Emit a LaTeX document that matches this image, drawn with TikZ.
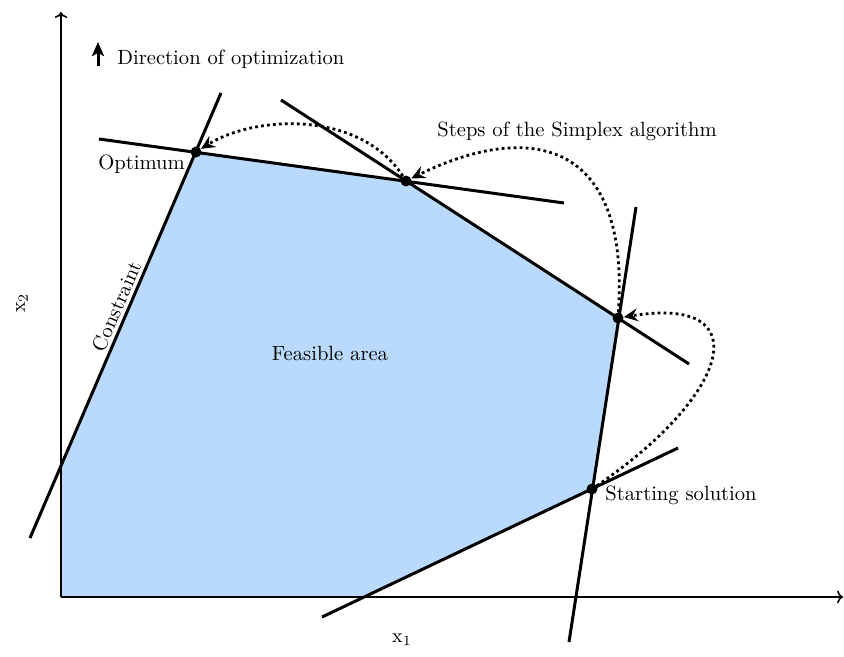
\documentclass[tikz,border=0pt]{standalone}
\usetikzlibrary{arrows.meta}
\definecolor{feasible}{RGB}{185,218,252}

\begin{document}
\begin{tikzpicture}[
    x=0.5pt, y=-0.5pt,
    axis/.style={-{To[length=3pt]}, line width=0.8pt},
    constraint/.style={line width=1.5pt},
    simplexstep/.style={-{Stealth[length=7pt, width=6.5pt, inset=2.5pt]}, line width=1.4pt, dash pattern=on 1.4pt off 1.6pt},
    point/.style={circle, fill=black, inner sep=0pt, minimum size=5.5pt},
    txt/.style={font=\fontsize{10.3}{12}\selectfont, inner sep=0pt}
]
    \useasboundingbox (0,0) rectangle (844,657);

    % Feasible area
    \fill[feasible] (61,466) -- (196,152) -- (406,181) -- (618,318) -- (592,489) -- (364,597) -- (61,597) -- cycle;

    % Axes
    \draw[axis] (61,597) -- (843,597);
    \draw[axis] (61,597) -- (61,12);
    \node[txt] (xone) at (402,640) {$\mathrm{x}_1$};
    \node[txt, rotate=90] (xtwo) at (22,303) {$\mathrm{x}_2$};

    % Constraints
    \draw[constraint] (30,538) -- (221,93) node[txt, pos=0.51, sloped, above=1.5pt] (constr) {Constraint};
    \draw[constraint] (99,139) -- (564,203);
    \draw[constraint] (281,100) -- (689,364);
    \draw[constraint] (636,207) -- (569,642);
    \draw[constraint] (322,617) -- (678,448);

    % Vertices
    \node[point] (opt) at (196,152) {};
    \node[point] (vtwo) at (406,181) {};
    \node[point] (vthree) at (618,318) {};
    \node[point] (start) at (592,489) {};

    % Simplex steps
    \draw[simplexstep] (start) .. controls (730,395) and (760,295) .. (vthree);
    \draw[simplexstep] (vthree) .. controls (630,140) and (530,120) .. (vtwo);
    \draw[simplexstep] (vtwo) .. controls (360,110) and (255,115) .. (opt);

    % Labels
    \node[txt, anchor=base west] (optlabel) at (98,170) {Optimum};
    \node[txt, anchor=base west] (steps) at (437,137) {Steps of the Simplex algorithm};
    \node[txt] (area) at (330,353) {Feasible area};
    \node[txt, anchor=base west] (startlabel) at (605,500) {Starting solution};
    \node[txt, anchor=base west] (direction) at (117,65) {Direction of optimization};
    \draw[-{Stealth[length=7pt, width=6pt, inset=1.5pt]}, line width=1.5pt] ([xshift=-9.5pt, yshift=-0.5pt]direction.base west) -- ++(0,12pt);
\end{tikzpicture}
\end{document}
